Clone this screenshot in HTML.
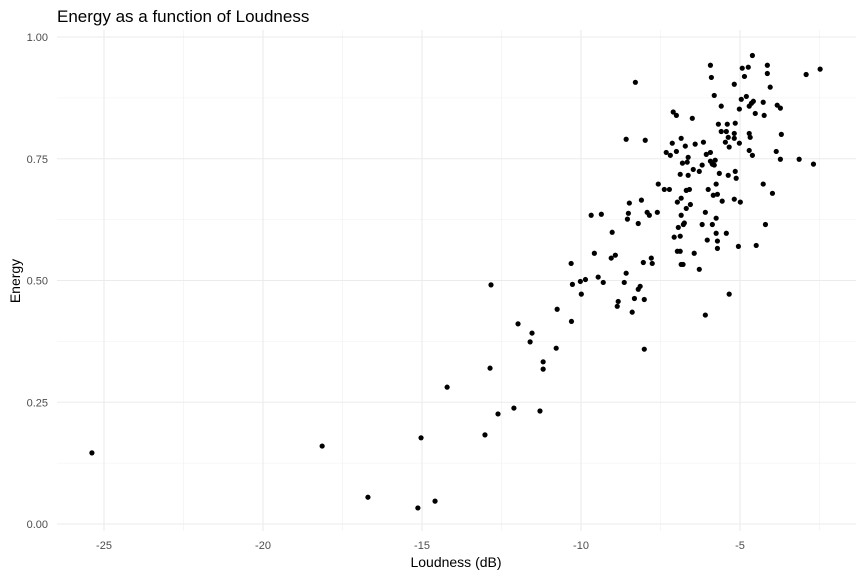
<!DOCTYPE html>
<html><head><meta charset="utf-8"><style>
body{margin:0;background:#fff;}
svg{display:block;font-family:"Liberation Sans",sans-serif;}
</style></head><body>
<svg id="chart" width="864" height="576">
<text x="57" y="22" font-size="17" fill="#000">Energy as a function of Loudness</text>
<g id="grid"></g>
<g id="axes"></g>
<g id="pts"></g>
<text x="456" y="567" font-size="14" text-anchor="middle" fill="#000">Loudness (dB)</text>
<text transform="translate(20,281) rotate(-90)" font-size="14" text-anchor="middle" fill="#000">Energy</text>
</svg>
<script>
const xTicks=[-25,-20,-15,-10,-5];
const yTicks=[0,0.25,0.5,0.75,1.0];
const yTickLabels=["0.00","0.25","0.50","0.75","1.00"];
const loudness=[-4.61,-5.93,-4.93,-4.74,-4.14,-5.90,-4.86,-4.14,-2.92,-2.48,-8.29,-5.18,-4.05,-5.81,-4.80,-4.96,-4.58,-4.64,-4.27,-4.71,-3.83,-3.73,-5.59,-5.02,-4.52,-4.24,-7.10,-7.00,-6.50,-5.68,-5.40,-5.15,-5.59,-5.43,-5.18,-4.71,-3.70,-5.37,-5.18,-4.68,-8.58,-7.98,-6.85,-7.13,-6.15,-5.46,-5.02,-6.41,-6.72,-5.34,-7.00,-7.32,-7.19,-5.93,-6.06,-4.71,-4.61,-3.86,-6.63,-6.66,-6.81,-5.93,-5.78,-5.87,-5.81,-6.19,-3.73,-3.14,-2.69,-6.47,-6.28,-6.88,-6.63,-5.65,-5.37,-5.15,-5.12,-7.57,-7.38,-7.22,-6.69,-6.59,-6.00,-5.75,-4.27,-6.85,-6.97,-6.56,-6.69,-5.84,-5.71,-5.56,-5.18,-4.99,-3.98,-8.48,-8.10,
-9.68,-9.36,-8.51,-8.54,-7.92,-7.85,-7.60,-8.20,-6.85,-6.09,-5.75,-6.94,-6.78,-6.75,-6.19,-5.87,-4.20,-9.02,-7.07,-6.88,-5.75,-5.43,-6.03,-5.71,-5.71,-5.05,-4.49,-9.58,-9.05,-8.92,-7.79,-8.04,-7.76,-6.97,-6.88,-6.44,-6.85,-6.79,-6.28,-10.31,-8.58,-10.27,-10.02,-9.86,-9.46,-9.30,-8.64,-8.14,-8.20,-9.99,-8.32,-8.01,-8.83,-8.86,-5.34,-10.75,-10.30,-8.39,-6.09,-10.78,-8.01,
-25.38,-18.14,-16.70,-15.13,-14.59,-15.03,-14.21,-13.02,-12.86,-12.83,-12.61,-12.11,-11.98,-11.60,-11.54,-11.29,-11.19,-11.19];
const energy=[0.962,0.942,0.936,0.938,0.942,0.917,0.919,0.925,0.923,0.934,0.907,0.903,0.897,0.880,0.878,0.872,0.868,0.864,0.866,0.858,0.860,0.854,0.858,0.852,0.843,0.839,0.846,0.839,0.833,0.821,0.821,0.823,0.806,0.806,0.802,0.802,0.800,0.794,0.792,0.794,0.790,0.788,0.792,0.782,0.784,0.784,0.782,0.780,0.776,0.774,0.765,0.763,0.757,0.763,0.759,0.767,0.757,0.765,0.753,0.743,0.741,0.745,0.747,0.739,0.737,0.737,0.749,0.749,0.739,0.728,0.724,0.718,0.716,0.720,0.716,0.724,0.710,0.698,0.687,0.687,0.685,0.687,0.687,0.698,0.698,0.669,0.661,0.656,0.648,0.675,0.677,0.663,0.667,0.661,0.679,0.659,0.665,
0.634,0.636,0.638,0.626,0.640,0.634,0.640,0.617,0.634,0.640,0.628,0.609,0.615,0.618,0.615,0.615,0.615,0.599,0.589,0.591,0.597,0.597,0.583,0.581,0.566,0.570,0.572,0.556,0.546,0.552,0.546,0.537,0.535,0.560,0.560,0.556,0.533,0.533,0.523,0.535,0.515,0.492,0.498,0.502,0.507,0.496,0.496,0.488,0.482,0.472,0.463,0.461,0.457,0.447,0.472,0.441,0.416,0.435,0.429,0.361,0.359,
0.146,0.160,0.055,0.033,0.047,0.177,0.281,0.183,0.320,0.491,0.226,0.238,0.411,0.374,0.392,0.232,0.333,0.318];

const L=57,R=856,T=30,B=531;
const xs=v=>899+v*31.8;
const ys=v=>524-v*487;
const NS="http://www.w3.org/2000/svg";
function mk(tag,attrs,parent){const e=document.createElementNS(NS,tag);for(const k in attrs)e.setAttribute(k,attrs[k]);parent.appendChild(e);return e;}
const grid=document.getElementById('grid'),axes=document.getElementById('axes'),pts=document.getElementById('pts');
// minor grid
for(let i=0;i<xTicks.length;i++){const v=xTicks[i]+2.5;const l=mk('line',{x1:xs(v),x2:xs(v),y1:T,y2:B,stroke:'#f0f0f0','stroke-width':0.6},grid);

}
{const v=xTicks[0]-2.5;}
for(let i=0;i<yTicks.length-1;i++){const v=yTicks[i]+0.125;const l=mk('line',{x1:L,x2:R,y1:ys(v),y2:ys(v),stroke:'#f0f0f0','stroke-width':0.6},grid);

}
xTicks.forEach(v=>{const l=mk('line',{x1:xs(v),x2:xs(v),y1:T,y2:B,stroke:'#ebebeb','stroke-width':1.1},grid);


const t=mk('text',{x:xs(v),y:549,'font-size':11,'text-anchor':'middle',fill:'#4d4d4d'},axes);t.textContent=String(v).replace('-','-');

});
yTicks.forEach((v,i)=>{const l=mk('line',{x1:L,x2:R,y1:ys(v),y2:ys(v),stroke:'#ebebeb','stroke-width':1.1},grid);


const t=mk('text',{x:48,y:ys(v)+4,'font-size':11,'text-anchor':'end',fill:'#4d4d4d'},axes);t.textContent=yTickLabels[i];

});
loudness.forEach((x,i)=>{const c=mk('circle',{cx:xs(x),cy:ys(energy[i]),r:2.6,fill:'#000'},pts);

});
</script>
</body></html>
